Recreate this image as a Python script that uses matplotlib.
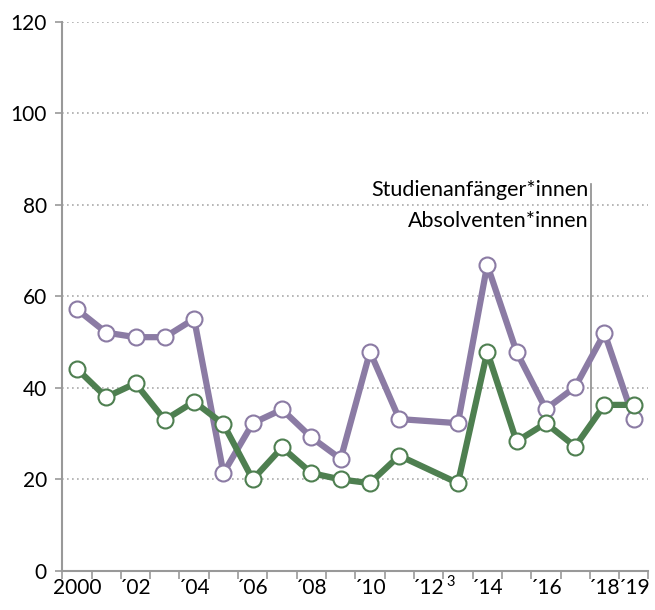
import matplotlib.pyplot as plt
import numpy as np

plt.rcParams['font.family'] = ['Lato', 'DejaVu Sans']

# 2012 has no value, the lines run straight from 2011 to 2013
years = [2000, 2001, 2002, 2003, 2004, 2005, 2006, 2007, 2008, 2009,
         2010, 2011, 2013, 2014, 2015, 2016, 2017, 2018, 2019]
anfaenger = [57.2, 52.1, 51.1, 51.1, 55.1, 21.4, 32.3, 35.3, 29.2, 24.5,
             47.9, 33.2, 32.3, 66.9, 47.9, 35.4, 40.2, 52.0, 33.2]
absolventen = [44.2, 38.0, 41.0, 33.0, 37.0, 32.1, 20.0, 27.0, 21.4, 20.0,
               19.2, 25.2, 19.2, 47.9, 28.3, 32.3, 27.2, 36.3, 36.3]
tick_pos = [2000, 2002, 2004, 2006, 2008, 2010, 2012, 2014, 2016, 2018, 2019]
tick_labels = ['2000', '´02', '´04', '´06', '´08', '´10', '´12', '´14', '´16', '´18', '´19']

purple = '#8b7ba4'
green = '#4e7f50'
grey = '#999999'

fig = plt.figure(figsize=(6.55, 6.1), dpi=100)
ax = fig.add_axes([0.095, 0.064, 0.895, 0.9])

x = np.array(years) - 2000
ax.plot(x, anfaenger, color=purple, lw=4.5, marker='o', ms=11.5,
        mfc='white', mec=purple, mew=1.5, zorder=3)
ax.plot(x, absolventen, color=green, lw=4.5, marker='o', ms=11.5,
        mfc='white', mec=green, mew=1.5, zorder=4)

# leader line + labels
ax.plot([17.55, 17.55], [31.6, 84.5], color='#8c8c8c', lw=1.2, zorder=2)
ax.text(17.45, 83.2, 'Studienanfänger*innen', ha='right', va='center', fontsize=15.5)
ax.text(17.45, 76.6, 'Absolventen*innen', ha='right', va='center', fontsize=15.5)

ax.set_xlim(-0.5, 19.5)
ax.set_ylim(0, 120)
ax.set_yticks(range(0, 121, 20))
for v in range(20, 121, 20):
    ax.axhline(v, color='#aaaaaa', lw=1.2, ls=(0, (1, 2)), zorder=1)

ax.set_xticks(np.array(tick_pos) - 2000)
ax.set_xticklabels(tick_labels)
ax.set_xticks(np.arange(-0.5, 19.6, 1), minor=True)
ax.tick_params(axis='x', which='major', length=0, pad=5, labelsize=15)
ax.tick_params(axis='x', which='minor', length=6, width=1.2, color=grey)
ax.tick_params(axis='y', length=5, width=1.2, color=grey, labelsize=15, pad=6)

# footnote mark on the 2012 label
ax.annotate('3', xy=(12, 0), xytext=(12.5, -3), textcoords='offset points',
            fontsize=10.5, va='top', ha='left', annotation_clip=False)

for s in ['top', 'right']:
    ax.spines[s].set_visible(False)
for s in ['left', 'bottom']:
    ax.spines[s].set_color(grey)
    ax.spines[s].set_linewidth(1.5)
ax.spines['left'].set_bounds(0, 120)

fig.savefig('out.png', dpi=100)
